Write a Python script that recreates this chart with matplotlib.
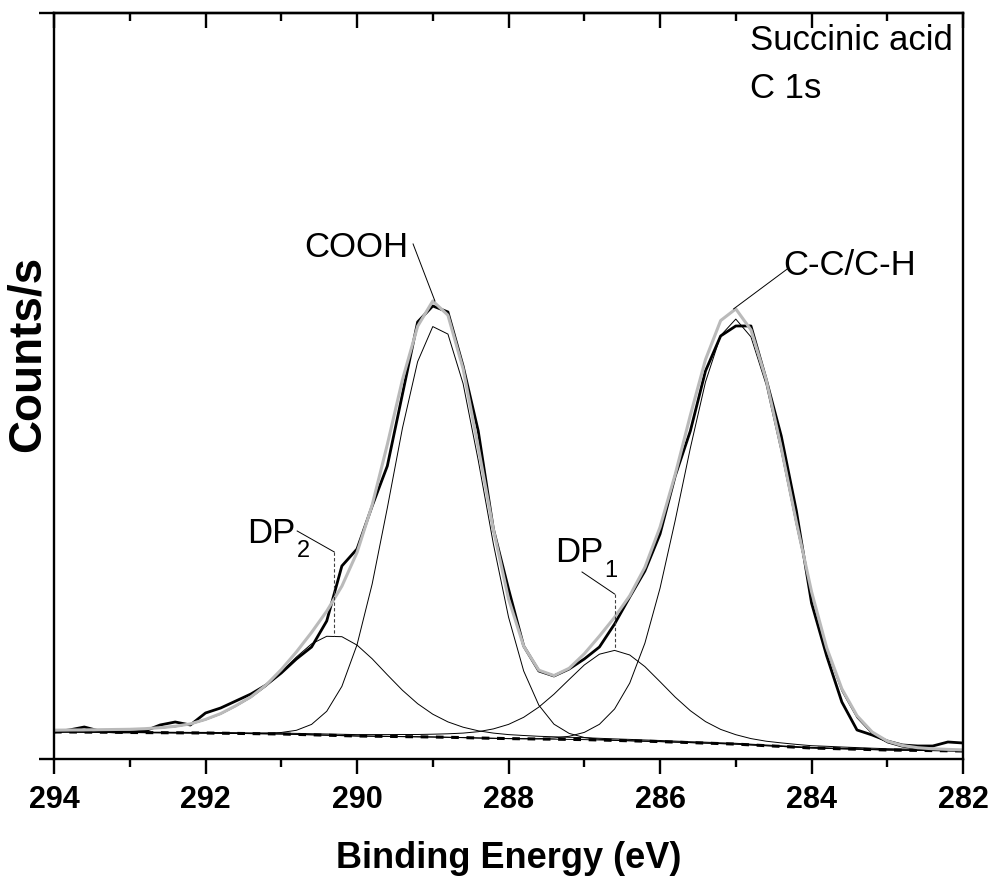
"""
plot.py — XPS C 1s spectrum of succinic acid with fitted components
"""

import numpy as np
import matplotlib
matplotlib.use("Agg")
import matplotlib.pyplot as plt
from matplotlib.ticker import MultipleLocator

plt.rcParams["font.family"] = ["Liberation Sans", "DejaVu Sans"]

# ─────────────────────────────────────────────────────────
#  Data (0.2 eV steps, 294 → 282 eV)
# ─────────────────────────────────────────────────────────
binding_energy = np.linspace(294.0, 282.0, 61)

raw_counts = [
    27, 29, 32, 28, 27, 27, 28, 34, 37, 34,
    46, 51, 58, 65, 74, 86, 100, 112, 138, 193,
    210, 253, 293, 365, 437, 453, 447, 393, 328, 230,
    170, 113, 88, 83, 90, 100, 112, 135, 162, 188,
    225, 283, 328, 388, 423, 433, 433, 380, 323, 248,
    156, 103, 57, 29, 24, 18, 14, 13, 13, 17,
    16,
]

background = [
    27.0, 27.0, 26.9, 26.8, 26.7, 26.5, 26.4, 26.3, 26.2, 26.1,
    26.0, 25.8, 25.6, 25.4, 25.2, 25.0, 24.6, 24.2, 23.8, 23.4,
    23.0, 22.8, 22.6, 22.4, 22.2, 22.0, 21.7, 21.4, 21.0, 20.7,
    20.4, 20.2, 20.0, 19.8, 19.6, 19.4, 19.0, 18.6, 18.2, 17.8,
    17.4, 16.9, 16.4, 15.9, 15.4, 14.9, 14.1, 13.3, 12.6, 11.8,
    11.0, 10.6, 10.2, 9.8, 9.4, 9.0, 8.8, 8.6, 8.4, 8.2,
    8.0,
]

peak_cooh = [
    0, 0, 0, 0, 0, 0, 0, 0, 0, 0,
    0, 0, 0, 0.1, 0.5, 1.5, 4.1, 10.4, 23.9, 49.2,
    91.2, 152.2, 228.5, 308.6, 375.1, 410.4, 403.2, 354.0, 277.6, 194.3,
    121.5, 67.8, 33.8, 15.0, 6.0, 2.1, 0.7, 0.2, 0.1, 0,
    0, 0, 0, 0, 0, 0, 0, 0, 0, 0,
    0, 0, 0, 0, 0, 0, 0, 0, 0, 0,
    0,
]

peak_cc = [
    0, 0, 0, 0, 0, 0, 0, 0, 0, 0,
    0, 0, 0, 0, 0, 0, 0, 0, 0, 0,
    0, 0, 0, 0, 0, 0, 0, 0, 0, 0,
    0, 0.1, 0.4, 1.2, 3.1, 7.2, 15.7, 31.4, 57.7, 98.0,
    153.4, 221.6, 294.5, 361.1, 408.0, 425.0, 408.0, 361.1, 294.5, 221.6,
    153.4, 98.0, 57.7, 31.4, 15.7, 7.2, 3.1, 1.2, 0.4, 0.1,
    0.0,
]

peak_dp1 = [
    0.3, 0.3, 0.3, 0.4, 0.4, 0.4, 0.4, 0.5, 0.5, 0.5,
    0.6, 0.6, 0.7, 0.7, 0.8, 0.9, 1.0, 1.1, 1.2, 1.3,
    1.4, 1.6, 1.8, 2.1, 2.3, 2.8, 3.5, 4.5, 6.3, 9.4,
    14.2, 21.5, 31.9, 45.0, 59.9, 74.6, 85.8, 90.0, 85.8, 74.6,
    59.9, 45.0, 31.9, 21.5, 14.2, 9.4, 6.3, 4.5, 3.5, 2.8,
    2.3, 2.1, 1.8, 1.6, 1.4, 1.3, 1.2, 1.1, 1.0, 0.9,
    0.8,
]

peak_dp2 = [
    1.5, 1.7, 1.9, 2.1, 2.4, 2.8, 3.5, 4.5, 6.0, 8.5,
    13.0, 19.0, 27.0, 36.0, 47.5, 62.0, 77.4, 90.9, 98.9, 98.9,
    90.9, 77.4, 61.6, 46.3, 33.1, 22.8, 15.4, 10.4, 7.2, 5.2,
    4.0, 3.3, 2.7, 2.4, 2.1, 1.9, 1.7, 1.5, 1.4, 1.2,
    1.1, 1.0, 0.9, 0.9, 0.8, 0.8, 0.7, 0.7, 0.6, 0.6,
    0.6, 0.5, 0.5, 0.5, 0.5, 0.4, 0.4, 0.4, 0.4, 0.4,
    0.3,
]


def peak_vertex(x, y):
    """Vertex of the parabola through the maximum and its two neighbours."""
    y = np.asarray(y, dtype=float)
    i = int(np.argmax(y))
    a, b, c = y[i - 1], y[i], y[i + 1]
    off = 0.5 * (a - c) / (a - 2 * b + c)
    step = x[1] - x[0]
    return x[i] + off * step, b


# ─────────────────────────────────────────────────────────
#  Figure
# ─────────────────────────────────────────────────────────
bg = np.asarray(background)
components = [np.asarray(p) for p in (peak_dp2, peak_cooh, peak_dp1, peak_cc)]
envelope = bg + sum(components)

fig = plt.figure(figsize=(9.91, 8.78), dpi=100)
ax = fig.add_axes([0.0545, 0.1344, 0.9173, 0.8497])

for comp in components:
    ax.plot(binding_energy, bg + comp, color="black", lw=0.7)

ax.plot(binding_energy, bg, color="black", lw=0.7)
ax.plot(binding_energy, bg, color="black", lw=2.2, ls=(0, (2.5, 2.5)))
ax.plot(binding_energy, raw_counts, color="black", lw=2.0)
ax.plot(binding_energy, envelope, color="0.73", lw=2.2)

# peak labels
txt = dict(fontsize=25, color="black")
lead = dict(color="black", lw=0.7)

e_cooh, y_cooh = peak_vertex(binding_energy, envelope * (binding_energy > 287))
ax.text(290.70, 503, "COOH", ha="left", va="baseline", **txt)
ax.plot([289.26, e_cooh], [515, y_cooh], **lead)

e_cc, y_cc = peak_vertex(binding_energy, envelope * (binding_energy < 287))
ax.text(284.38, 485, "C-C/C-H", ha="left", va="baseline", **txt)
ax.plot([284.32, e_cc], [490, y_cc], **lead)

e_dp2, h_dp2 = peak_vertex(binding_energy, peak_dp2)
ax.text(291.45, 217, "DP", ha="left", va="baseline", **txt)
ax.text(290.79, 203, "2", ha="left", va="baseline", fontsize=17)
ax.plot([290.79, e_dp2], [228, 207], **lead)
ax.plot([e_dp2, e_dp2], [207, np.interp(-e_dp2, -binding_energy, bg) + h_dp2],
        color="0.25", lw=0.8, ls=(0, (3, 2)))

e_dp1, h_dp1 = peak_vertex(binding_energy, peak_dp1)
ax.text(287.39, 198, "DP", ha="left", va="baseline", **txt)
ax.text(286.73, 183, "1", ha="left", va="baseline", fontsize=17)
ax.plot([287.03, e_dp1], [187, 165], **lead)
ax.plot([e_dp1, e_dp1], [165, np.interp(-e_dp1, -binding_energy, bg) + h_dp1],
        color="0.25", lw=0.8, ls=(0, (3, 2)))

ax.text(0.766, 0.986, "Succinic acid\nC 1s", transform=ax.transAxes,
        ha="left", va="top", fontsize=25, linespacing=1.55)

# ─────────────────────────────────────────────────────────
#  Axes
# ─────────────────────────────────────────────────────────
ax.set_xlim(294, 282)
ax.set_ylim(0, 746)

for s in ax.spines.values():
    s.set_linewidth(1.7)

ax.xaxis.set_major_locator(MultipleLocator(2))
ax.xaxis.set_minor_locator(MultipleLocator(1))
ax.tick_params(axis="x", which="major", direction="out", length=11, width=1.7,
               labelsize=22, pad=7, top=False)
ax.tick_params(axis="x", which="minor", direction="out", length=6, width=1.7, top=False)
for lab in ax.get_xticklabels():
    lab.set_fontweight("bold")

top = ax.secondary_xaxis("top")
top.xaxis.set_major_locator(MultipleLocator(2))
top.xaxis.set_minor_locator(MultipleLocator(1))
top.tick_params(which="major", direction="in", length=11, width=1.7, labeltop=False)
top.tick_params(which="minor", direction="in", length=6, width=1.7)
top.spines["top"].set_linewidth(1.7)

ax.set_yticks([0, 746])
ax.tick_params(axis="y", direction="out", length=11, width=1.7,
               labelleft=False, right=False)

ax.set_xlabel("Binding Energy (eV)", fontsize=26, fontweight="bold", va="baseline")
ax.xaxis.set_label_coords(0.5006, -0.1448)
ax.set_ylabel("Counts/s", fontsize=33, fontweight="bold", va="center")
ax.yaxis.set_label_coords(-0.029, 0.544)

fig.savefig("out.png", dpi=100)
